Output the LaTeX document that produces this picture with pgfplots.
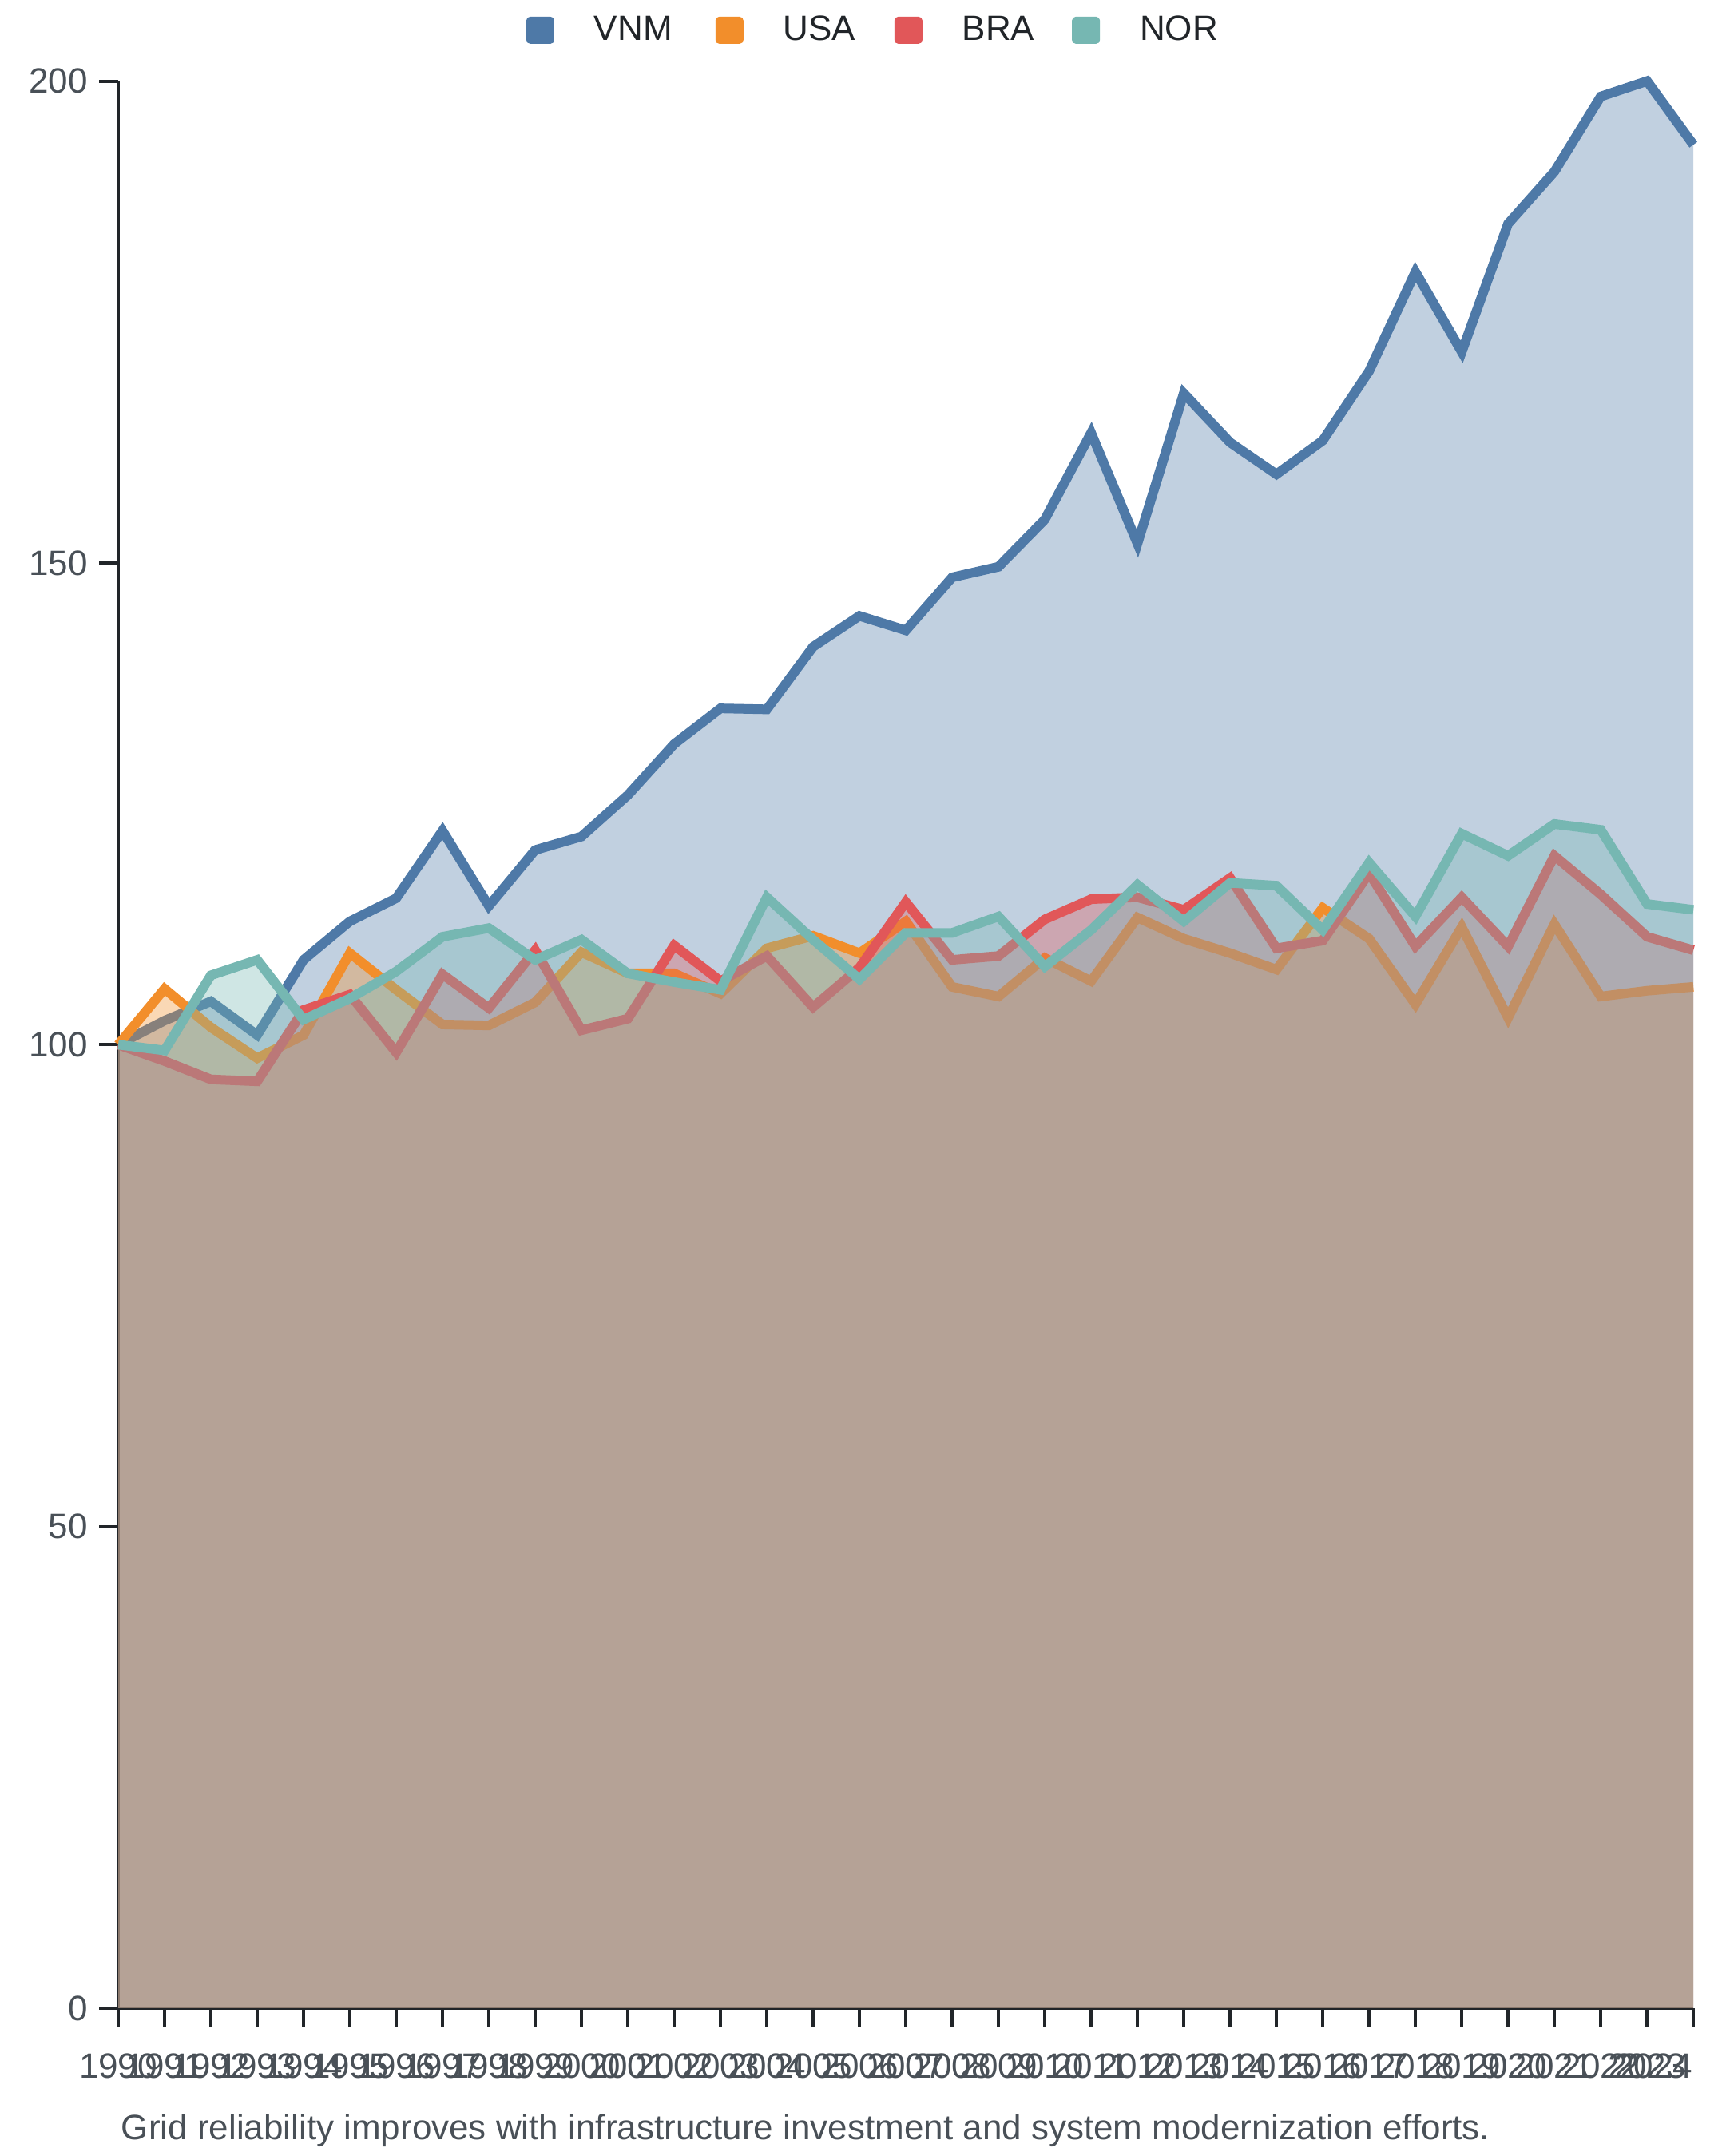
\documentclass[border=0pt]{standalone}
\usepackage{fontspec}
\setmainfont{Liberation Sans}
\usepackage{pgfplots}
\usepackage{pgfplotstable}
\pgfplotsset{compat=1.18}
\definecolor{vnm}{HTML}{4E79A7}
\definecolor{usa}{HTML}{F28E2B}
\definecolor{bra}{HTML}{E15759}
\definecolor{nor}{HTML}{76B7B2}
\definecolor{axisc}{HTML}{212529}
\definecolor{labc}{HTML}{495057}
\definecolor{legc}{HTML}{212529}

\pgfplotstableread{
year VNM USA BRA NOR
1990 100 100 100 100
1991 102.5 105.8 98.3 99.4
1992 104.5 101.8 96.4 107.2
1993 101 98.6 96.2 108.8
1994 108.8 101 103.6 102.6
1995 112.8 109.5 105.2 104.8
1996 115.2 105.7 99.2 107.6
1997 122.2 102.1 107.3 111.2
1998 114.4 102 103.8 112.1
1999 120.2 104.4 109.8 108.8
2000 121.6 109.6 101.5 110.9
2001 125.9 107.4 102.7 107.4
2002 131.2 107.4 110.3 106.5
2003 134.9 105.3 106.6 105.7
2004 134.8 110 109.2 115.3
2005 141.3 111.3 103.9 110.9
2006 144.5 109.5 108 106.8
2007 143.0 112.8 114.8 111.6
2008 148.5 106 108.8 111.6
2009 149.6 105 109.2 113.3
2010 154.5 109 113 108.1
2011 163.5 106.6 115.1 111.9
2012 152.0 113.2 115.3 116.6
2013 167.6 111 114 112.8
2014 162.5 109.5 117.3 116.8
2015 159.2 107.8 110 116.5
2016 162.7 114.2 110.8 111.9
2017 169.9 111 117.8 118.9
2018 180.2 104.2 110.2 113.3
2019 171.9 112.2 115.3 121.9
2020 185.2 102.8 110.2 119.6
2021 190.6 112.5 119.6 122.9
2022 198.4 105 115.6 122.3
2023 200 105.6 111.2 114.6
2024 193.4 106 109.8 114
}\data

\begin{document}
\begin{tikzpicture}
\path[use as bounding box] (-37pt,-46.25pt) rectangle (503pt,628.7pt);
\begin{axis}[
  at={(0,0)}, anchor=south west,
  scale only axis, width=493pt, height=603.3pt,
  xmin=1990, xmax=2024, ymin=0, ymax=200,
  clip=false,
  axis lines*=left,
  axis line style={line width=1pt, color=axisc},
  xtick={1990,...,2023},
  extra x ticks={2024},
  extra x tick style={xticklabel style={anchor=north east, inner xsep=0pt}},
  ytick={0,50,100,150,200},
  tick align=outside,
  major tick length=6pt,
  tick style={line width=1pt, color=axisc},
  /pgf/number format/1000 sep={},
  /pgf/number format/assume math mode=true,
  tick label style={font=\fontsize{11}{13}\selectfont, text=labc},
  xticklabel style={yshift=-4.7pt},
  legend style={at={(0.2591,1.0264)}, anchor=west, draw=none, fill=none,
    inner sep=0pt, outer sep=0pt, font=\fontsize{11}{13}\selectfont, text=legc,
    nodes={inner xsep=0pt, inner ysep=1pt},
    /tikz/column 2/.style={column sep=13.5pt},
    /tikz/column 4/.style={column sep=12.15pt},
    /tikz/column 6/.style={column sep=11.7pt}},
  legend columns=4,
  legend cell align=left,
]
\addlegendimage{legend image code/.code={\fill[draw=none, fill=vnm, rounded corners=1.2pt] (0pt,-4.25pt) rectangle (8.75pt,4.25pt); \path[draw=none, fill=none] (0pt,0pt) (21.25pt,0pt);}}
\addlegendentry{VNM}
\addlegendimage{legend image code/.code={\fill[draw=none, fill=usa, rounded corners=1.2pt] (0pt,-4.25pt) rectangle (8.75pt,4.25pt); \path[draw=none, fill=none] (0pt,0pt) (21.25pt,0pt);}}
\addlegendentry{USA}
\addlegendimage{legend image code/.code={\fill[draw=none, fill=bra, rounded corners=1.2pt] (0pt,-4.25pt) rectangle (8.75pt,4.25pt); \path[draw=none, fill=none] (0pt,0pt) (21.25pt,0pt);}}
\addlegendentry{BRA}
\addlegendimage{legend image code/.code={\fill[draw=none, fill=nor, rounded corners=1.2pt] (0pt,-4.25pt) rectangle (8.75pt,4.25pt); \path[draw=none, fill=none] (0pt,0pt) (21.25pt,0pt);}}
\addlegendentry{NOR}

\addplot[fill=vnm, fill opacity=0.35, draw=none, forget plot] table[x=year,y=VNM]{\data} \closedcycle;
\addplot[vnm, line width=3pt, miter limit=4, forget plot] table[x=year,y=VNM]{\data};
\addplot[fill=usa, fill opacity=0.35, draw=none, forget plot] table[x=year,y=USA]{\data} \closedcycle;
\addplot[usa, line width=3pt, miter limit=4, forget plot] table[x=year,y=USA]{\data};
\addplot[fill=bra, fill opacity=0.35, draw=none, forget plot] table[x=year,y=BRA]{\data} \closedcycle;
\addplot[bra, line width=3pt, miter limit=4, forget plot] table[x=year,y=BRA]{\data};
\addplot[fill=nor, fill opacity=0.35, draw=none, forget plot] table[x=year,y=NOR]{\data} \closedcycle;
\addplot[nor, line width=3pt, miter limit=4, forget plot] table[x=year,y=NOR]{\data};
\end{axis}
\node[anchor=base west, inner sep=0pt, font=\fontsize{11}{13}\selectfont, text=labc] at (0.75pt,-41pt) {Grid reliability improves with infrastructure investment and system modernization efforts.};
\end{tikzpicture}
\end{document}
